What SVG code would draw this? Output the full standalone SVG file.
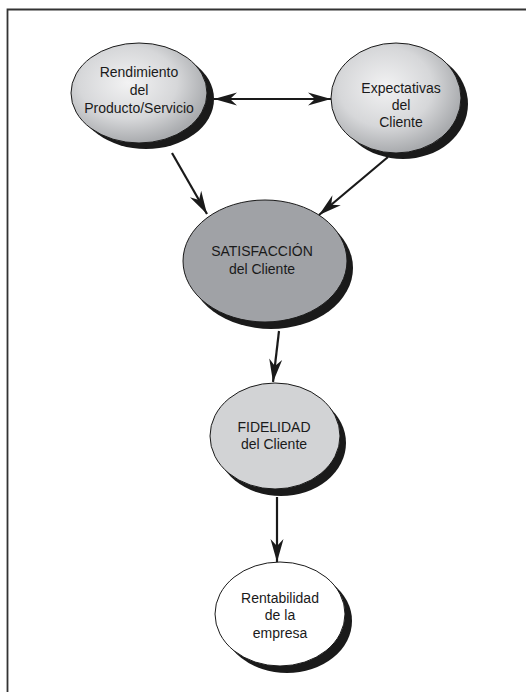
<svg xmlns="http://www.w3.org/2000/svg" width="526" height="692" viewBox="0 0 526 692">
<defs>
<radialGradient id="g1" cx="0.42" cy="0.4" r="0.6">
<stop offset="0" stop-color="#f2f2f3"/>
<stop offset="0.6" stop-color="#d6d7d9"/>
<stop offset="1" stop-color="#a9abae"/>
</radialGradient>
<marker id="ah" viewBox="-24 -7 26 14" refX="0" refY="0" markerWidth="26" markerHeight="14" markerUnits="userSpaceOnUse" orient="auto-start-reverse">
<path d="M0,0 L-23,-6.5 L-16,0 L-23,6.5 Z" fill="#1a1a1a"/>
</marker>
<style>
.shadow{fill:#1a1a1a}
.body{stroke:#1a1a1a;stroke-width:1}
.lbl{font-family:"Liberation Sans",Arial,sans-serif;font-size:14px;fill:#1a1a1a;text-anchor:middle}
.conn{stroke:#1a1a1a;stroke-width:2.2;fill:none;marker-end:url(#ah)}
</style>
</defs>
<rect width="526" height="692" fill="#fff"/>
<path d="M7.5,692 V9.5 H526" fill="none" stroke="#333" stroke-width="1.8"/>
<g id="rendimiento">
<ellipse class="shadow" cx="146" cy="99" rx="68" ry="50"/>
<ellipse class="body" cx="139" cy="93" rx="68" ry="50" fill="url(#g1)"/>
<text class="lbl" x="139" y="77">Rendimiento</text>
<text class="lbl" x="139" y="95">del</text>
<text class="lbl" x="139" y="113">Producto/Servicio</text>
</g>
<g id="expectativas">
<ellipse class="shadow" cx="403" cy="104" rx="65" ry="55"/>
<ellipse class="body" cx="396" cy="98" rx="65" ry="55" fill="url(#g1)"/>
<text class="lbl" x="401" y="93">Expectativas</text>
<text class="lbl" x="401" y="110">del</text>
<text class="lbl" x="401" y="127">Cliente</text>
</g>
<g id="satisfaccion">
<ellipse class="shadow" cx="271" cy="268" rx="82" ry="61"/>
<ellipse class="body" cx="265" cy="261" rx="82" ry="61" fill="#a0a2a6"/>
<text class="lbl" x="262" y="256">SATISFACCIÓN</text>
<text class="lbl" x="262" y="274">del Cliente</text>
</g>
<g id="fidelidad">
<ellipse class="shadow" cx="281" cy="443" rx="65" ry="53"/>
<ellipse class="body" cx="275" cy="436" rx="65" ry="53" fill="#d2d3d5"/>
<text class="lbl" x="274" y="432">FIDELIDAD</text>
<text class="lbl" x="274" y="449">del Cliente</text>
</g>
<g id="rentabilidad">
<ellipse class="shadow" cx="287" cy="621" rx="65" ry="52"/>
<ellipse class="body" cx="280" cy="614" rx="65" ry="52" fill="#fff"/>
<text class="lbl" x="280" y="603">Rentabilidad</text>
<text class="lbl" x="280" y="620">de la</text>
<text class="lbl" x="280" y="638">empresa</text>
</g>
<g id="connectors">
<line class="conn" x1="214" y1="99" x2="331" y2="99" style="marker-start:url(#ah)"/>
<line class="conn" x1="172" y1="153" x2="207" y2="214"/>
<line class="conn" x1="388" y1="157" x2="319" y2="215"/>
<line class="conn" x1="279" y1="331" x2="273" y2="382"/>
<line class="conn" x1="277" y1="497" x2="277" y2="562"/>
</g>
</svg>
